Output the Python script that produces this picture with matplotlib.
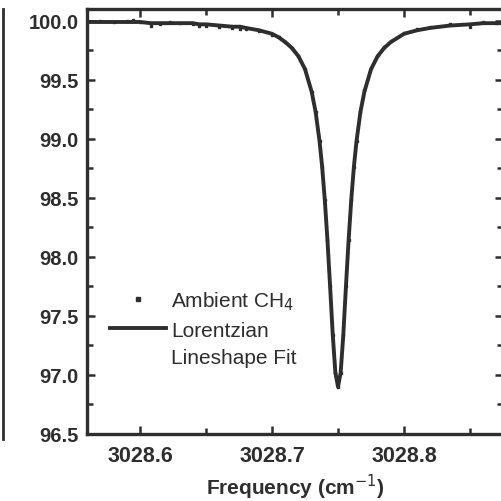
import matplotlib
matplotlib.use("Agg")
import matplotlib.pyplot as plt
from matplotlib.lines import Line2D
from matplotlib.ticker import MultipleLocator

# frequencies (cm^-1)
freq = [3028.560, 3028.570, 3028.580, 3028.590, 3028.595, 3028.600, 3028.608,
        3028.615, 3028.623, 3028.630, 3028.640, 3028.645, 3028.650, 3028.660,
        3028.670, 3028.676, 3028.680, 3028.690, 3028.700, 3028.705, 3028.710,
        3028.715, 3028.720, 3028.725, 3028.730, 3028.733, 3028.736, 3028.738,
        3028.740, 3028.742, 3028.744, 3028.746, 3028.748, 3028.750, 3028.752,
        3028.754, 3028.756, 3028.758, 3028.760, 3028.762, 3028.764, 3028.767,
        3028.770, 3028.775, 3028.780, 3028.785, 3028.790, 3028.800, 3028.810,
        3028.820, 3028.835, 3028.850, 3028.860, 3028.870, 3028.876]

# measured transmission (%)
ambient_ch4 = [100.00, 100.00, 99.99, 100.00, 100.01, 99.99, 99.96,
               99.97, 99.99, 99.98, 99.97, 99.96, 99.96, 99.95,
               99.94, 99.93, 99.93, 99.91, 99.88, 99.86, 99.82,
               99.77, 99.70, 99.59, 99.40, 99.23, 98.98, 98.76,
               98.48, 98.14, 97.75, 97.34, 97.02, 96.90, 97.02,
               97.34, 97.75, 98.14, 98.48, 98.76, 98.98, 99.23,
               99.41, 99.60, 99.71, 99.78, 99.83, 99.90, 99.93,
               99.95, 99.97, 99.95, 99.99, 99.98, 99.99]

# Lorentzian fit (%)
lorentz_fit = [99.99, 99.99, 99.99, 99.99, 99.99, 99.99, 99.98,
               99.98, 99.98, 99.98, 99.98, 99.97, 99.97, 99.96,
               99.95, 99.95, 99.94, 99.92, 99.89, 99.86, 99.82,
               99.77, 99.70, 99.59, 99.40, 99.23, 98.98, 98.76,
               98.48, 98.14, 97.75, 97.34, 97.02, 96.90, 97.02,
               97.34, 97.75, 98.14, 98.48, 98.76, 98.98, 99.23,
               99.40, 99.59, 99.70, 99.77, 99.82, 99.89, 99.92,
               99.94, 99.96, 99.97, 99.98, 99.98, 99.98]

ink = "#2e2e2e"
plt.rcParams["font.family"] = ["Liberation Sans", "DejaVu Sans"]

fig = plt.figure(figsize=(5.01, 5.02), dpi=100)
ax = fig.add_axes([87 / 501, 67 / 502, 416 / 501, 425 / 502])

ax.plot(freq, ambient_ch4, linestyle="none", marker="s", markersize=2.0,
        color=ink, label="Ambient CH$_4$")
ax.plot(freq, lorentz_fit, color=ink, linewidth=2.8, label="Lorentzian")
# second line of the fit label, kept as its own legend row
ax.plot([], [], linestyle="none", label="Lineshape Fit")

ax.set_xlim(3028.5598, 3028.875)
ax.set_ylim(96.5, 100.10)
ax.xaxis.set_major_locator(MultipleLocator(0.1))
ax.xaxis.set_minor_locator(MultipleLocator(0.05))
ax.yaxis.set_major_locator(MultipleLocator(0.5))
ax.yaxis.set_minor_locator(MultipleLocator(0.25))
ax.xaxis.set_major_formatter(plt.FormatStrFormatter("%.1f"))
ax.yaxis.set_major_formatter(plt.FormatStrFormatter("%.1f"))

for s in ax.spines.values():
    s.set_linewidth(2.4)
    s.set_color(ink)
ax.tick_params(which="both", direction="in", top=True, right=True,
               color=ink, width=1.8, labelcolor=ink)
ax.tick_params(axis="y", labelsize=14.5)
ax.tick_params(axis="x", labelsize=15.5)
ax.tick_params(which="major", length=6, pad=6)
ax.tick_params(axis="x", which="major", pad=8)
ax.tick_params(which="minor", length=4)
for t in ax.get_xticklabels() + ax.get_yticklabels():
    t.set_fontweight("bold")

ax.set_xlabel("Frequency (cm$^{-1}$)", fontsize=15, fontweight="bold",
              color=ink, labelpad=4)

leg = ax.legend(loc="upper left", bbox_to_anchor=(0.035, 0.36), frameon=False,
                fontsize=15, handlelength=2.7, handletextpad=0.25,
                labelspacing=0.42, borderaxespad=0, markerscale=1.6)
for t in leg.get_texts():
    t.set_color(ink)

# frame edge of the neighbouring panel on the left
fig.add_artist(Line2D([2.5 / 501, 2.5 / 501], [62 / 502, 492 / 502],
                      color=ink, linewidth=2.0, transform=fig.transFigure))

fig.savefig("out.png", dpi=100)
